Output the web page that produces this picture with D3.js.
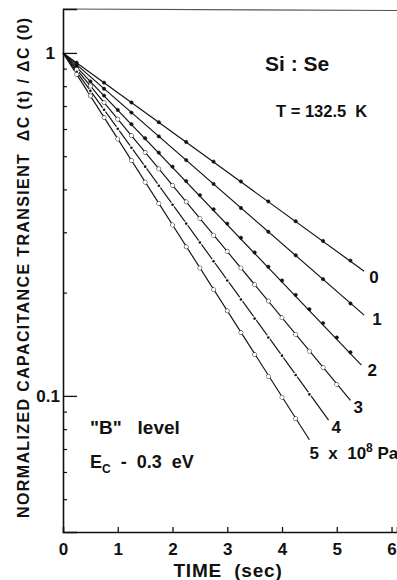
<!DOCTYPE html>
<html>
<head>
<meta charset="utf-8">
<script src="https://cdn.jsdelivr.net/npm/d3@7"></script>
<style>
  body { margin: 0; background: #fff; }
  svg { display: block; }
  text { font-family: "Liberation Sans", Arial, sans-serif; font-weight: bold; fill: #111; }
</style>
</head>
<body>
<svg id="chart" width="397" height="580"></svg>
<script>
// pressures (x 10^8 Pa)
const pressures = ['0', '1', '2', '3', '4', '5'];
// fitted lines: all start at (0, 1), end at these points
const fitEndT = [5.5, 5.5, 5.45, 5.25, 4.85, 4.5];
const fitEndV = [0.231, 0.172, 0.123, 0.097, 0.085, 0.0745];

// measured points
const s0t = [0.25, 0.75, 1.25, 1.75, 2.25, 2.75, 3.25, 3.75, 4.25, 4.75, 5.25];
const s0v = [0.936, 0.819, 0.717, 0.628, 0.550, 0.482, 0.422, 0.369, 0.323, 0.283, 0.248];
const s1t = [0.25, 0.75, 1.25, 1.75, 2.25, 2.75, 3.25, 3.75, 4.25, 4.75, 5.25];
const s1v = [0.923, 0.786, 0.670, 0.571, 0.487, 0.415, 0.353, 0.301, 0.257, 0.219, 0.186];
const s2t = [0.25, 0.5, 0.75, 1, 1.25, 1.5, 1.75, 2, 2.25, 2.5, 2.75, 3, 3.25, 3.5, 3.75, 4, 4.25, 4.5, 4.75, 5, 5.25];
const s2v = [0.909, 0.826, 0.751, 0.682, 0.620, 0.564, 0.512, 0.466, 0.423, 0.385, 0.350, 0.318, 0.289, 0.262, 0.238, 0.217, 0.197, 0.179, 0.163, 0.148, 0.134];
const s3t = [0.25, 0.5, 0.75, 1, 1.25, 1.5, 1.75, 2, 2.25, 2.5, 2.75, 3, 3.25, 3.5, 3.75, 4, 4.25, 4.5, 4.75, 5];
const s3v = [0.895, 0.801, 0.717, 0.641, 0.574, 0.513, 0.459, 0.411, 0.368, 0.329, 0.294, 0.264, 0.236, 0.211, 0.189, 0.169, 0.151, 0.135, 0.121, 0.108];
const s4t = [0.25, 0.5, 0.75, 1, 1.25, 1.5, 1.75, 2, 2.25, 2.5, 2.75, 3, 3.25, 3.5, 3.75, 4, 4.25, 4.5];
const s4v = [0.881, 0.775, 0.683, 0.601, 0.529, 0.466, 0.410, 0.361, 0.318, 0.280, 0.247, 0.217, 0.191, 0.168, 0.148, 0.131, 0.115, 0.101];
const s5t = [0.25, 0.5, 0.75, 1, 1.25, 1.5, 1.75, 2, 2.25, 2.5, 2.75, 3, 3.25, 3.5, 3.75, 4, 4.25];
const s5v = [0.866, 0.749, 0.648, 0.561, 0.486, 0.420, 0.364, 0.315, 0.272, 0.236, 0.204, 0.177, 0.153, 0.132, 0.114, 0.0991, 0.0858];

const xTicks = [0, 1, 2, 3, 4, 5, 6];
const yMajor = [1, 0.1];
const yMinor = [0.9, 0.8, 0.7, 0.6, 0.5, 0.4, 0.3, 0.2, 0.09, 0.08, 0.07, 0.06, 0.05];

const seriesT = [s0t, s1t, s2t, s3t, s4t, s5t];
const seriesV = [s0v, s1v, s2v, s3v, s4v, s5v];

// marker style per series: 'dot' filled, 'ring' open, 'tiny' (breaks the line)
const markerKind = ['dot', 'dot', 'dot', 'ring', 'tiny', 'ring'];
// label offsets from the line end (px)
const labelOff = [[5, 12], [8, 10], [6, 11], [3, 13], [3, 13], [0, 19]];

const svg = d3.select('#chart');
const plotL = 63, plotR = 397, plotT = 9, plotB = 532;

const x = d3.scaleLinear().domain([0, 6.1]).range([plotL, plotR]);
const y = d3.scaleLog().domain([0.0401, 1.343]).range([plotB, plotT]);

// frame
svg.append('line')
  .attr('x1', plotL).attr('x2', plotR)
  .attr('y1', plotT).attr('y2', plotT + 1.5)
  .style('stroke', '#555').style('stroke-width', 1.1);

// x axis
const xAxis = d3.axisBottom(x).tickValues(xTicks).tickSize(-5).tickPadding(11).tickFormat(d3.format('d'));
const gx = svg.append('g').attr('transform', `translate(0,${plotB})`).call(xAxis);
gx.select('.domain').style('stroke', '#111').style('stroke-width', 1.6);
gx.selectAll('.tick line').style('stroke', '#111').style('stroke-width', 1.3);
gx.selectAll('.tick text')
  .style('font-size', '17px').style('font-family', '"Liberation Sans", Arial, sans-serif')
  .style('font-weight', 'bold').attr('fill', '#111');
gx.selectAll('.tick').filter(d => d === 0).select('line').remove();

// y axis
const yAxis = d3.axisLeft(y).tickValues(yMajor).tickSize(-14).tickPadding(3)
  .tickFormat(d => d === 1 ? '1' : '0.1');
const gy = svg.append('g').attr('transform', `translate(${plotL},0)`).call(yAxis);
gy.select('.domain').style('stroke', '#111').style('stroke-width', 1.6);
gy.selectAll('.tick line').style('stroke', '#111').style('stroke-width', 1.3);
gy.selectAll('.tick text')
  .style('font-size', '17px').style('font-family', '"Liberation Sans", Arial, sans-serif')
  .style('font-weight', 'bold').attr('fill', '#111');
gy.selectAll('.tick').filter(d => d === 1).select('text').attr('x', -8);

const gyMinor = svg.append('g').attr('transform', `translate(${plotL},0)`)
  .call(d3.axisLeft(y).tickValues(yMinor).tickSize(-4).tickFormat(''));
gyMinor.select('.domain').remove();
gyMinor.selectAll('.tick line').style('stroke', '#111').style('stroke-width', 1.2);

// fitted lines
const lineGen = d3.line().x(d => x(d[0])).y(d => y(d[1]));
const plot = svg.append('g');
fitEndT.forEach((t, i) => {
  plot.append('path')
    .datum([[0, 1], [t, fitEndV[i]]])
    .attr('d', lineGen)
    .attr('fill', 'none')
    .attr('stroke', '#111')
    .attr('stroke-width', 1.15);
});

// markers
seriesT.forEach((ts, i) => {
  const pts = ts.map((t, j) => [t, seriesV[i][j]]);
  const kind = markerKind[i];
  plot.selectAll(null)
    .data(pts)
    .enter().append('circle')
    .attr('cx', d => x(d[0]))
    .attr('cy', d => y(d[1]))
    .attr('r', kind === 'tiny' ? 1.3 : (kind === 'ring' ? 1.9 : 1.7))
    .attr('fill', kind === 'ring' ? '#fff' : '#111')
    .attr('stroke', kind === 'tiny' ? '#fff' : '#111')
    .attr('stroke-width', kind === 'tiny' ? 2.2 : (kind === 'ring' ? 1 : 0.5))
    .attr('paint-order', 'stroke');
});

// curve labels
pressures.forEach((p, i) => {
  const lx = x(fitEndT[i]) + labelOff[i][0];
  const ly = y(fitEndV[i]) + labelOff[i][1];
  const t = svg.append('text')
    .attr('x', lx).attr('y', ly)
    .attr('xml:space', 'preserve')
    .style('font-size', '17px');
  if (i === 5) {
    t.text(p + '  x  10');
    t.append('tspan').attr('dy', -7).style('font-size', '12px').text('8');
    t.append('tspan').attr('dy', 7).text(' Pa');
  } else {
    t.text(p);
  }
});

// annotations
svg.append('text').attr('x', 265).attr('y', 71).style('font-size', '21px')
  .attr('xml:space', 'preserve').text('Si : Se');
svg.append('text').attr('x', 276).attr('y', 117).style('font-size', '16.5px')
  .attr('xml:space', 'preserve').text('T = 132.5  K');
svg.append('text').attr('x', 90).attr('y', 434).style('font-size', '19px')
  .attr('xml:space', 'preserve').text('"B"   level');
const ec = svg.append('text').attr('x', 90).attr('y', 468).style('font-size', '18px')
  .attr('xml:space', 'preserve');
ec.append('tspan').text('E');
ec.append('tspan').attr('dy', 5).style('font-size', '12px').text('C');
ec.append('tspan').attr('dy', -5).text('  -  0.3  eV');

// axis titles
svg.append('text')
  .attr('x', 228).attr('y', 577)
  .attr('text-anchor', 'middle')
  .style('font-size', '19px')
  .style('letter-spacing', '0.8px')
  .attr('xml:space', 'preserve')
  .text('TIME  (sec)');

svg.append('text')
  .attr('transform', 'translate(29,268) rotate(-90)')
  .attr('text-anchor', 'middle')
  .attr('textLength', 500)
  .attr('lengthAdjust', 'spacing')
  .attr('xml:space', 'preserve')
  .style('font-size', '16px')
  .text('NORMALIZED CAPACITANCE TRANSIENT  ΔC (t) / ΔC (0)');
</script>
</body>
</html>
